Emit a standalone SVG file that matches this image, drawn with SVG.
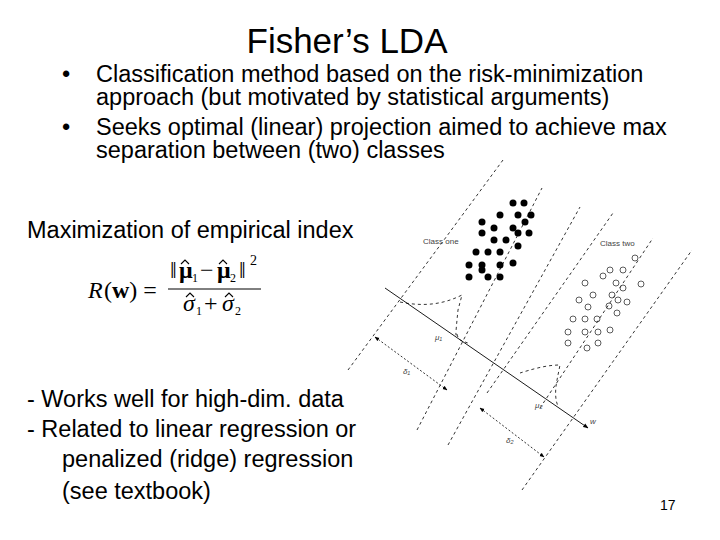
<svg xmlns="http://www.w3.org/2000/svg" width="720" height="540" viewBox="0 0 720 540">
<defs>
<marker id="ah" viewBox="0 0 10 10" refX="9" refY="5" markerWidth="6" markerHeight="6" orient="auto-start-reverse"><path d="M0,1 L10,5 L0,9 z" fill="#000"/></marker>
</defs>
<style>
.t{font-family:"Liberation Sans",Arial,sans-serif;font-size:23.5px;fill:#000}
.m{font-family:"Liberation Serif","Times New Roman",serif;fill:#000;font-size:24px}
.hat{fill:none;stroke:#000;stroke-width:1.1}
.sb{font-family:"Liberation Serif","Times New Roman",serif;fill:#000;font-size:12px}
.d{stroke:#000;stroke-width:0.8;stroke-dasharray:3,3;fill:none}
.s{font-family:"Liberation Sans",Arial,sans-serif;font-size:8px;fill:#444}
.f{fill:#000}
.o{fill:none;stroke:#333;stroke-width:0.8}
</style>
<rect width="720" height="540" fill="#fff"/>
<g id="text">
<text class="t" x="347" y="53" text-anchor="middle" style="font-size:35px">Fisher’s LDA</text>
<text class="t" x="62" y="82">•</text>
<text class="t" x="96" y="82">Classification method based on the risk-minimization</text>
<text class="t" x="96" y="105">approach (but motivated by statistical arguments)</text>
<text class="t" x="62" y="135">•</text>
<text class="t" x="96" y="135">Seeks optimal (linear) projection aimed to achieve max</text>
<text class="t" x="96" y="158">separation between (two) classes</text>
<text class="t" x="27" y="238">Maximization of empirical index</text>
<text class="t" x="27" y="407">- Works well for high-dim. data</text>
<text class="t" x="27" y="437">-  Related to linear regression or</text>
<text class="t" x="62" y="467">penalized (ridge) regression</text>
<text class="t" x="62" y="499">(see textbook)</text>
<text class="t" x="660" y="510" style="font-size:14px">17</text>
</g>
<g id="formula">
<text class="m" x="88" y="298" font-style="italic">R</text>
<text class="m" x="104" y="298">(<tspan font-weight="bold">w</tspan>) =</text>
<line x1="168" y1="289" x2="261" y2="289" stroke="#000" stroke-width="1"/>
<text class="m" x="170" y="278">‖</text>
<text class="m" x="179" y="278" font-weight="bold">μ</text>
<path class="hat" d="M181,264 L185,260 L189,264"/>
<text class="sb" x="192" y="282">1</text>
<text class="m" x="200" y="278">−</text>
<text class="m" x="217" y="278" font-weight="bold">μ</text>
<path class="hat" d="M219,264 L223,260 L227,264"/>
<text class="sb" x="230" y="282">2</text>
<text class="m" x="239" y="278">‖</text>
<text class="sb" x="250" y="265" style="font-size:14px">2</text>
<text class="m" x="183" y="311" font-style="italic">σ</text>
<path class="hat" d="M186,297 L190,293 L194,297"/>
<text class="sb" x="196" y="315">1</text>
<text class="m" x="204" y="311">+</text>
<text class="m" x="222" y="311" font-style="italic">σ</text>
<path class="hat" d="M225,297 L229,293 L233,297"/>
<text class="sb" x="235" y="315">2</text>
</g>
<g id="connectors">
<line class="d" x1="348" y1="370" x2="503" y2="160"/>
<line class="d" x1="417" y1="430" x2="542" y2="188"/>
<line class="d" x1="448" y1="445" x2="580" y2="207"/>
<line class="d" x1="487" y1="393" x2="613" y2="213"/>
<line class="d" x1="540" y1="408" x2="653" y2="238"/>
<line class="d" x1="522" y1="490" x2="692" y2="250"/>
<line x1="385" y1="288" x2="588" y2="428" stroke="#000" stroke-width="0.9" marker-end="url(#ah)"/>
<path class="d" d="M400,302 C420,306 440,306 462,295 L458,310 C456,330 455,340 457,333 C458,342 462,340 470,344"/>
<path class="d" d="M520,373 C530,370 545,365 560,365 L557,380 C555,390 555,400 558,406"/>
<line x1="375" y1="337" x2="447" y2="390" stroke="#000" stroke-width="0.8" stroke-dasharray="2,2" marker-start="url(#ah)" marker-end="url(#ah)"/>
<line x1="480" y1="408" x2="544" y2="457" stroke="#000" stroke-width="0.8" stroke-dasharray="2,2" marker-start="url(#ah)" marker-end="url(#ah)"/>
</g>
<g id="labels">
<text class="s" x="423" y="244">Class one</text>
<text class="s" x="600" y="246">Class two</text>
<text class="s" x="435" y="340" font-style="italic">μ₁</text>
<text class="s" x="535" y="408" font-style="italic">μ₂</text>
<text class="s" x="403" y="374" font-style="italic">δ₁</text>
<text class="s" x="506" y="443" font-style="italic">δ₂</text>
<text class="s" x="590" y="424" font-style="italic">w</text>
</g>
<g id="class-one">
<circle class="f" cx="513" cy="203" r="3.5"/><circle class="f" cx="524" cy="203" r="3.5"/><circle class="f" cx="500" cy="215" r="3.5"/><circle class="f" cx="518" cy="215" r="3.5"/><circle class="f" cx="531" cy="215" r="3.5"/><circle class="f" cx="482" cy="222" r="3.5"/><circle class="f" cx="525" cy="222" r="3.5"/><circle class="f" cx="494" cy="228" r="3.5"/><circle class="f" cx="513" cy="228" r="3.5"/><circle class="f" cx="482" cy="233" r="3.5"/><circle class="f" cx="518" cy="233" r="3.5"/><circle class="f" cx="529" cy="233" r="3.5"/><circle class="f" cx="494" cy="240" r="3.5"/><circle class="f" cx="506" cy="240" r="3.5"/><circle class="f" cx="518" cy="246" r="3.5"/><circle class="f" cx="476" cy="252" r="3.5"/><circle class="f" cx="488" cy="252" r="3.5"/><circle class="f" cx="500" cy="252" r="3.5"/><circle class="f" cx="469" cy="265" r="3.5"/><circle class="f" cx="482" cy="265" r="3.5"/><circle class="f" cx="500" cy="265" r="3.5"/><circle class="f" cx="513" cy="263" r="3.5"/><circle class="f" cx="469" cy="277" r="3.5"/><circle class="f" cx="482" cy="270" r="3.5"/><circle class="f" cx="488" cy="277" r="3.5"/><circle class="f" cx="500" cy="277" r="3.5"/>
</g>
<g id="class-two">
<circle class="o" cx="635" cy="258" r="3"/><circle class="o" cx="610" cy="270" r="3"/><circle class="o" cx="623" cy="270" r="3"/><circle class="o" cx="603" cy="276" r="3"/><circle class="o" cx="585" cy="283" r="3"/><circle class="o" cx="616" cy="283" r="3"/><circle class="o" cx="641" cy="284" r="3"/><circle class="o" cx="623" cy="288" r="3"/><circle class="o" cx="593" cy="295" r="3"/><circle class="o" cx="612" cy="295" r="3"/><circle class="o" cx="579" cy="300" r="3"/><circle class="o" cx="618" cy="300" r="3"/><circle class="o" cx="627" cy="302" r="3"/><circle class="o" cx="588" cy="307" r="3"/><circle class="o" cx="609" cy="306" r="3"/><circle class="o" cx="617" cy="313" r="3"/><circle class="o" cx="573" cy="319" r="3"/><circle class="o" cx="585" cy="319" r="3"/><circle class="o" cx="597" cy="319" r="3"/><circle class="o" cx="568" cy="332" r="3"/><circle class="o" cx="585" cy="332" r="3"/><circle class="o" cx="598" cy="332" r="3"/><circle class="o" cx="610" cy="330" r="3"/><circle class="o" cx="568" cy="343" r="3"/><circle class="o" cx="587" cy="348" r="3"/><circle class="o" cx="598" cy="343" r="3"/>
</g>
</svg>
